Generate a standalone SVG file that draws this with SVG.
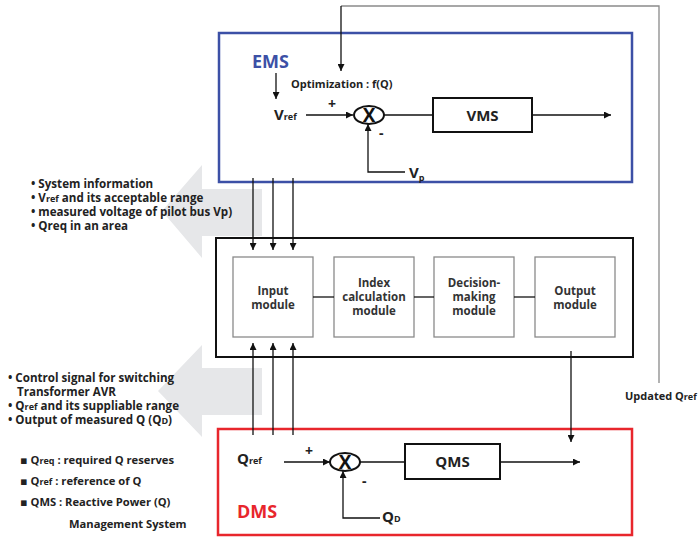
<svg xmlns="http://www.w3.org/2000/svg" width="698" height="537" viewBox="0 0 698 537">
  <defs>
    <marker id="ah" viewBox="0 0 10 10" refX="10" refY="5" markerWidth="7" markerHeight="7" markerUnits="userSpaceOnUse" orient="auto">
      <path d="M0,0 L10,5 L0,10 z" fill="#111"/>
    </marker>
  </defs>
  <style>
    text { font-family: "Open Sans", "Noto Sans", "DejaVu Sans", sans-serif; font-weight: bold; fill: #222; }
    .t { font-size: 11px; }
    .n { font-size: 11.6px; }
    .lg { font-size: 11.2px; }
    .mod { font-size: 11.5px; text-anchor: middle; fill: #333; }
    .sub { font-size: 9px; }
    .big { font-size: 15px; }
    .pm { font-size: 14px; }
    .title { font-size: 18px; }
    .blk { font-size: 15px; text-anchor: middle; }
    .x { font-size: 19px; text-anchor: middle; fill: #111; }
    .ln { fill: none; stroke: #111; stroke-width: 1.3; }
    .arr { fill: none; stroke: #111; stroke-width: 1.3; marker-end: url(#ah); }
    .box { fill: #fff; stroke: #111; stroke-width: 2; }
    .modbox { fill: #fff; stroke: #8a8a8a; stroke-width: 1.3; }
    .sum { fill: #fff; stroke: #111; stroke-width: 2; }
    .band { fill: #e6e7e9; }
  </style>

  <!-- wide information arrows -->
  <g id="info-arrow-top">
    <polygon class="band" points="262,189 202,189 202,165 162,211 202,258 202,236 262,236"/>
  </g>
  <g id="info-arrow-bottom">
    <polygon class="band" points="262,368 202,368 202,345 158,391 202,437 202,415 262,415"/>
  </g>

  <!-- EMS block -->
  <g id="ems">
    <rect x="219" y="33" width="413" height="149" fill="none" stroke="#3c50a6" stroke-width="2.5"/>
    <text class="title" x="252" y="68" style="fill:#3c50a6">EMS</text>
    <text class="t" x="291" y="88">Optimization : f(Q)</text>
    <text x="274" y="120"><tspan class="big">V</tspan><tspan class="sub">ref</tspan></text>
    <text class="pm" x="328" y="109">+</text>
    <text class="pm" x="379" y="138">-</text>
    <text x="409" y="178"><tspan class="big">V</tspan><tspan class="sub" dy="3">p</tspan></text>
  </g>
  <g id="ems-sum">
    <ellipse class="sum" cx="369" cy="115" rx="15" ry="9"/>
    <text class="x" x="369" y="122">X</text>
  </g>
  <g id="vms">
    <rect class="box" x="433" y="98" width="99" height="34"/>
    <text class="blk" x="482.5" y="121">VMS</text>
  </g>

  <!-- central processing block -->
  <g id="controller">
    <rect class="box" x="216" y="238" width="417" height="119" stroke-width="2.5"/>
  </g>
  <g id="input-module">
    <rect class="modbox" x="233" y="257" width="80" height="80"/>
    <text class="mod" x="273" y="295">Input</text>
    <text class="mod" x="273" y="308.5">module</text>
  </g>
  <g id="index-module">
    <rect class="modbox" x="334" y="257" width="80" height="80"/>
    <text class="mod" x="374" y="287">Index</text>
    <text class="mod" x="374" y="301">calculation</text>
    <text class="mod" x="374" y="315">module</text>
  </g>
  <g id="decision-module">
    <rect class="modbox" x="434" y="257" width="80" height="80"/>
    <text class="mod" x="474" y="287">Decision-</text>
    <text class="mod" x="474" y="301">making</text>
    <text class="mod" x="474" y="315">module</text>
  </g>
  <g id="output-module">
    <rect class="modbox" x="535" y="257" width="80" height="80"/>
    <text class="mod" x="575" y="295">Output</text>
    <text class="mod" x="575" y="308.5">module</text>
  </g>

  <!-- DMS block -->
  <g id="dms">
    <rect x="218" y="429" width="414" height="106" fill="none" stroke="#e8262c" stroke-width="2.5"/>
    <text class="title" x="237" y="518" style="fill:#e8262c">DMS</text>
    <text x="237" y="464"><tspan class="big">Q</tspan><tspan class="sub">ref</tspan></text>
    <text class="pm" x="305" y="456">+</text>
    <text class="pm" x="362" y="486">-</text>
    <text x="382" y="522"><tspan class="big">Q</tspan><tspan class="sub">D</tspan></text>
  </g>
  <g id="dms-sum">
    <ellipse class="sum" cx="345" cy="462" rx="15" ry="9"/>
    <text class="x" x="345" y="469">X</text>
  </g>
  <g id="qms">
    <rect class="box" x="405" y="444" width="95" height="35"/>
    <text class="blk" x="452.5" y="467">QMS</text>
  </g>

  <!-- connectors -->
  <g id="connectors">
    <path d="M659,383 L659,6 L341,6" fill="none" stroke="#8a8a8a" stroke-width="1.3"/>
    <path class="arr" d="M341,6 L341,71"/>
    <path class="arr" d="M276,73 L276,99"/>
    <path class="arr" d="M306,115 L353,115"/>
    <path class="ln" d="M384,115 L433,115"/>
    <path class="arr" d="M532,115 L611,115"/>
    <path class="arr" d="M405,172 L368,172 L368,124"/>

    <path class="arr" d="M253,178 L253,250"/>
    <path class="arr" d="M273,178 L273,250"/>
    <path class="arr" d="M293,178 L293,250"/>

    <path class="ln" d="M313,297 L334,297"/>
    <path class="ln" d="M414,297 L434,297"/>
    <path class="ln" d="M514,297 L535,297"/>

    <path class="arr" d="M253,435 L253,343"/>
    <path class="arr" d="M273,435 L273,343"/>
    <path class="arr" d="M293,435 L293,343"/>

    <path class="arr" d="M571,351 L571,442"/>

    <path class="arr" d="M284,462 L330,462"/>
    <path class="ln" d="M360,462 L405,462"/>
    <path class="arr" d="M500,462 L580,462"/>
    <path class="arr" d="M380,518 L343,518 L343,471"/>
  </g>

  <!-- side notes -->
  <g id="notes-top">
    <text class="n" x="31" y="188">• System information</text>
    <text class="n" x="31" y="202">• V<tspan class="sub">ref</tspan> and its acceptable range</text>
    <text class="n" x="31" y="216">• measured voltage of pilot bus Vp)</text>
    <text class="n" x="31" y="230">• Qreq in an area</text>
  </g>
  <g id="notes-bottom">
    <text class="n" x="8" y="382">• Control signal for switching</text>
    <text class="n" x="17" y="396">Transformer AVR</text>
    <text class="n" x="8" y="410">• Q<tspan class="sub">ref</tspan> and its suppliable range</text>
    <text class="n" x="8" y="424">• Output of measured Q (Q<tspan class="sub">D</tspan>)</text>
  </g>
  <g id="legend">
    <text class="lg" x="20" y="464">▪ Q<tspan class="sub">req</tspan> : required Q reserves</text>
    <text class="lg" x="20" y="485">▪ Q<tspan class="sub">ref</tspan> : reference of Q</text>
    <text class="lg" x="20" y="506">▪ QMS : Reactive Power (Q)</text>
    <text class="lg" x="69" y="528">Management System</text>
  </g>
  <g id="updated-label">
    <text x="625" y="400"><tspan class="t">Updated Q</tspan><tspan class="sub">ref</tspan></text>
  </g>
</svg>
